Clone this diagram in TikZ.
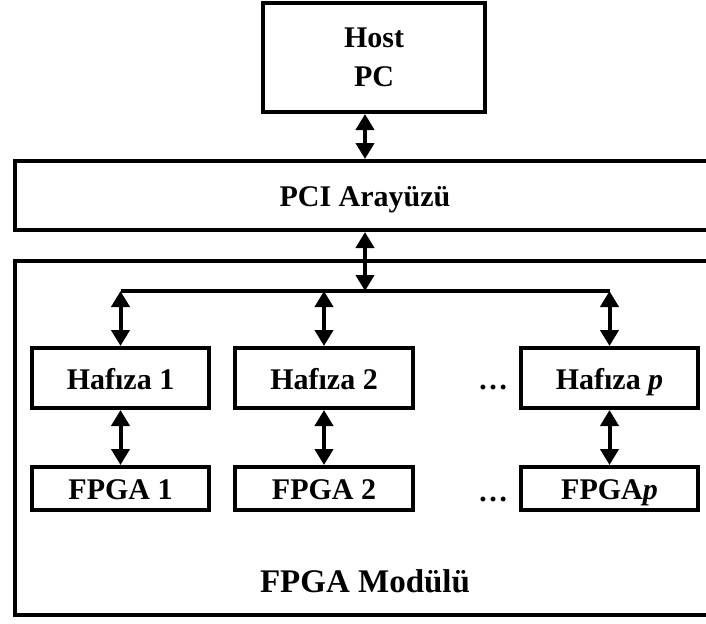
\documentclass[tikz,border=0pt]{standalone}
\usepackage{fontspec}
\setmainfont{Liberation Serif}
\usetikzlibrary{arrows.meta}

\begin{document}
\begin{tikzpicture}[x=0.5pt,y=-0.5pt,
    every path/.style={line width=2pt,>={Triangle[width=9pt,length=8pt]}},
    every node/.style={font=\fontsize{15}{19.5}\selectfont\bfseries},
    kutu/.style={draw,rectangle,inner sep=0pt,text height=11pt,text depth=0pt}]
    \useasboundingbox (0,0) rectangle (706,623);
    \node[draw,rectangle,inner sep=0pt,minimum width=111pt,minimum height=54.5pt,align=center] (host) at (374,57.5) {Host\\PC};
    \node[kutu,minimum width=350pt,minimum height=34.5pt] (pci) at (365,195.5) {PCI Arayüzü};
    \node[kutu,minimum width=350pt,minimum height=177pt] (modul) at (365,438) {};
    \node[font=\fontsize{16.5}{20}\selectfont\bfseries] (modulad) at (365,581) {FPGA Modülü};
    \node[kutu,minimum width=88.5pt,minimum height=30pt] (h1) at (120.5,378) {Hafıza 1};
    \node[kutu,minimum width=89pt,minimum height=30pt] (h2) at (324,378) {Hafıza 2};
    \node[kutu,minimum width=88.5pt,minimum height=30pt] (hp) at (609.5,378) {Hafıza \textit{p}};
    \node[kutu,minimum width=88.5pt,minimum height=21.5pt] (f1) at (120.5,488.5) {FPGA 1};
    \node[kutu,minimum width=89pt,minimum height=21.5pt] (f2) at (324,488.5) {FPGA 2};
    \node[kutu,minimum width=88.5pt,minimum height=21.5pt] (fp) at (609.5,488.5) {FPGA\textit{p}};
    \node[text height=11pt,text depth=0pt] (d1) at (493,378) {…};
    \node[text height=11pt,text depth=0pt] (d2) at (493,490) {…};
    \coordinate (bus) at (365,291);
    \draw[<->] (host.south -| pci.north) -- (pci.north);
    \draw[<->] (pci.south) -- (bus);
    \draw (h1.north |- bus) -- (hp.north |- bus);
    \draw[<->] (h1.north |- bus) -- (h1.north);
    \draw[<->] (h2.north |- bus) -- (h2.north);
    \draw[<->] (hp.north |- bus) -- (hp.north);
    \draw[<->] (h1.south) -- (f1.north);
    \draw[<->] (h2.south) -- (f2.north);
    \draw[<->] (hp.south) -- (fp.north);
\end{tikzpicture}
\end{document}
